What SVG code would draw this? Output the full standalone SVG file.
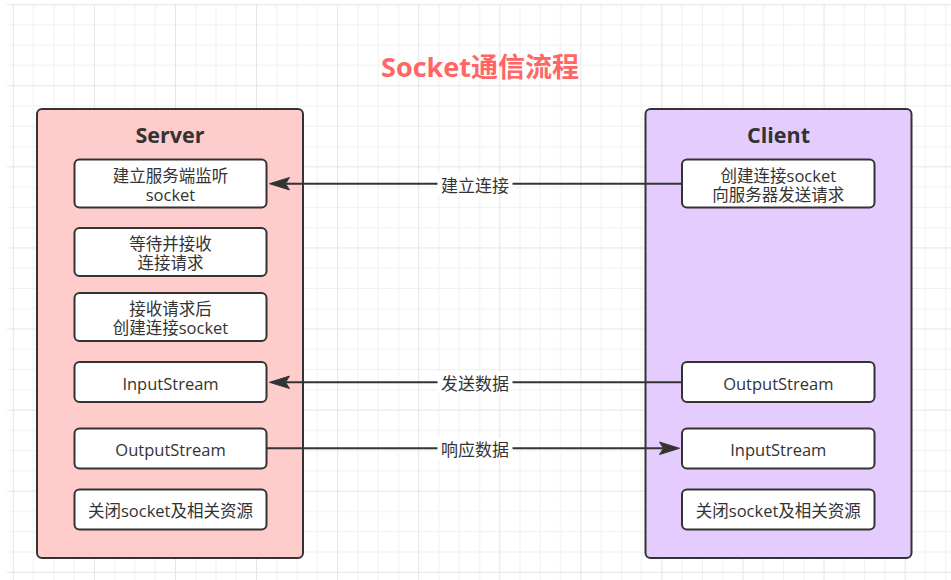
<svg xmlns="http://www.w3.org/2000/svg" width="951" height="580" viewBox="0 0 951 580">
  <defs>
    <pattern id="grid" patternUnits="userSpaceOnUse" x="12.8" y="4.2" width="81.08" height="81.08">
      <path d="M20.77,0V81.08M41.04,0V81.08M61.31,0V81.08M0,20.77H81.08M0,41.04H81.08M0,61.31H81.08" stroke="#f0f0f0" stroke-width="1" fill="none"/>
      <path d="M0.5,0V81.08M0,0.5H81.08" stroke="#e4e4e4" stroke-width="1" fill="none"/>
    </pattern>
    <style>
      .container { stroke: #333333; stroke-width: 2; }
      .box { fill: #ffffff; stroke: #333333; stroke-width: 2; }
      .t { font-family: "Open Sans", "Noto Sans CJK SC", sans-serif; font-size: 16.5px; fill: #333333; text-anchor: middle; }
      .head { font-family: "Open Sans", "Noto Sans CJK SC", sans-serif; font-size: 21.5px; font-weight: bold; fill: #333333; text-anchor: middle; }
      .title { font-family: "Open Sans", "Noto Sans CJK SC", sans-serif; font-size: 27px; font-weight: bold; fill: #ff6666; text-anchor: middle; }
      .edge { stroke: #333333; stroke-width: 2; fill: none; }
      .head-arrow { fill: #333333; stroke: #333333; stroke-width: 1; stroke-linejoin: miter; }
      .lbl { font-family: "Noto Sans CJK SC", sans-serif; font-size: 17px; fill: #333333; text-anchor: middle; }
      .lblbg { fill: #ffffff; }
    </style>
  </defs>

  <rect width="951" height="580" fill="#ffffff"/>
  <rect x="7" y="4" width="944" height="576" fill="url(#grid)"/>

  <text id="title" class="title" x="480" y="77">Socket通信流程</text>

  <g id="server">
    <rect class="container" x="37" y="109" width="266" height="449" rx="5" fill="#ffcccc"/>
    <text class="head" x="170" y="143.3">Server</text>
  </g>
  <g id="client">
    <rect class="container" x="645.5" y="109" width="266" height="449" rx="5" fill="#e5ccff"/>
    <text class="head" x="778.5" y="143.3">Client</text>
  </g>

  <g id="s-listen">
    <rect class="box" x="74.5" y="159.5" width="192" height="48" rx="5"/>
    <text class="t" x="170.5" y="181.5">建立服务端监听<tspan x="170.5" dy="19">socket</tspan></text>
  </g>
  <g id="s-accept">
    <rect class="box" x="74.5" y="228" width="192" height="48" rx="5"/>
    <text class="t" x="170.5" y="250">等待并接收<tspan x="170.5" dy="19">连接请求</tspan></text>
  </g>
  <g id="s-create">
    <rect class="box" x="74.5" y="293" width="192" height="48" rx="5"/>
    <text class="t" x="170.5" y="315">接收请求后<tspan x="170.5" dy="19">创建连接socket</tspan></text>
  </g>
  <g id="s-input">
    <rect class="box" x="74.5" y="362" width="192" height="40" rx="5"/>
    <text class="t" x="170.5" y="389.5">InputStream</text>
  </g>
  <g id="s-output">
    <rect class="box" x="74.5" y="428.5" width="192" height="40" rx="5"/>
    <text class="t" x="170.5" y="456">OutputStream</text>
  </g>
  <g id="s-close">
    <rect class="box" x="74.5" y="489.5" width="192" height="40" rx="5"/>
    <text class="t" x="170.5" y="517">关闭socket及相关资源</text>
  </g>

  <g id="c-connect">
    <rect class="box" x="682" y="159.5" width="192.5" height="48" rx="5"/>
    <text class="t" x="778.3" y="181.5">创建连接socket<tspan x="778.3" dy="19">向服务器发送请求</tspan></text>
  </g>
  <g id="c-output">
    <rect class="box" x="682" y="362" width="192.5" height="40" rx="5"/>
    <text class="t" x="778.3" y="389.5">OutputStream</text>
  </g>
  <g id="c-input">
    <rect class="box" x="682" y="428.5" width="192.5" height="40" rx="5"/>
    <text class="t" x="778.3" y="456">InputStream</text>
  </g>
  <g id="c-close">
    <rect class="box" x="682" y="489.5" width="192.5" height="40" rx="5"/>
    <text class="t" x="778.3" y="517">关闭socket及相关资源</text>
  </g>

  <g id="connectors">
    <path class="edge" d="M682,183.7H286"/>
    <path class="head-arrow" d="M269.5,183.7L289.5,177.5L285.5,183.7L289.5,189.9Z"/>
    <rect class="lblbg" x="437.5" y="173.5" width="75" height="21"/>
    <text class="lbl" x="475" y="191.5">建立连接</text>

    <path class="edge" d="M682,382.3H286"/>
    <path class="head-arrow" d="M269.5,382.3L289.5,376.1L285.5,382.3L289.5,388.5Z"/>
    <rect class="lblbg" x="437.5" y="372" width="75" height="21"/>
    <text class="lbl" x="475" y="390">发送数据</text>

    <path class="edge" d="M266.5,448.3H663"/>
    <path class="head-arrow" d="M679.5,448.3L659.5,442.1L663.5,448.3L659.5,454.5Z"/>
    <rect class="lblbg" x="437.5" y="438" width="75" height="21"/>
    <text class="lbl" x="475" y="456">响应数据</text>
  </g>
</svg>
